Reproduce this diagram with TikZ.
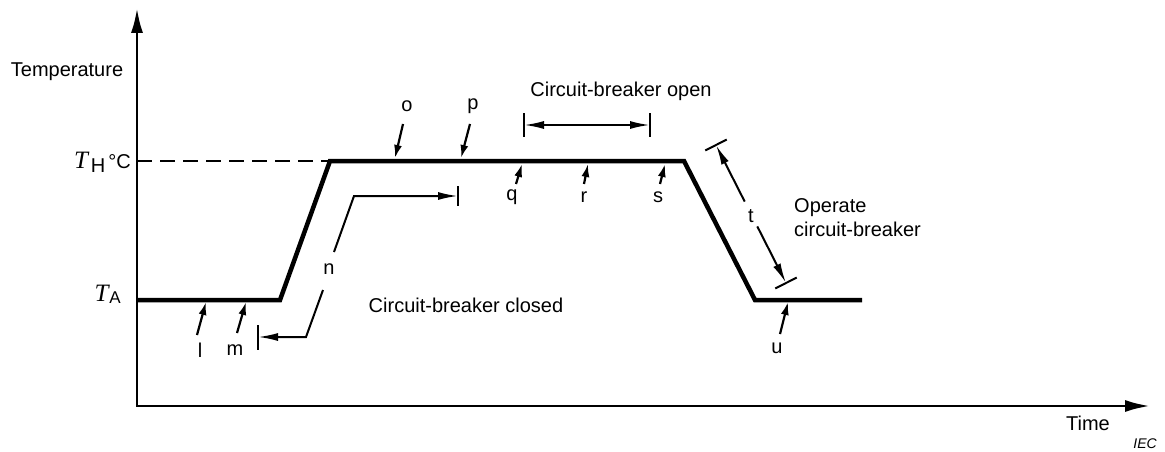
\documentclass[tikz,border=0pt]{standalone}
\usepackage{fontspec}
\setmainfont{Liberation Sans}
\newfontfamily\serifT{Liberation Serif}
\usetikzlibrary{arrows.meta,calc}
\tikzset{
  axis/.style={line width=2.8pt,{Latex[length=25pt,width=12pt]}-{Latex[length=25pt,width=12pt]}},
  profile/.style={line width=4.5pt,line join=miter},
  limitline/.style={line width=1.6pt,dash pattern=on 15pt off 8pt},
  pointer/.style={line width=2.2pt,-{Latex[length=13pt,width=8pt]}},
  dimline/.style={line width=2pt},
  dimtip/.style={-{Latex[length=20pt,width=8pt]}},
  lbl/.style={font=\fontsize{20}{24}\selectfont,inner sep=0pt},
  smalllbl/.style={font=\fontsize{14}{16}\selectfont\itshape,inner sep=0pt}
}
\newcommand{\tsym}{{\fontsize{25}{28}\selectfont\serifT\itshape T}}

\begin{document}
\begin{tikzpicture}[x=1pt,y=-1pt]
  \useasboundingbox (0,0) rectangle (1165,452);
  % axes
  \coordinate (O) at (137,406);
  \coordinate (ytop) at (137,8);
  \coordinate (xend) at (1150,406);
  \draw[axis] (ytop) -- (O) -- (xend);
  \node[lbl] (temp) at (67,72) {Temperature};
  \node[lbl] (time) at (1088,423) {Time};
  \node[smalllbl,anchor=east] (iec) at (1157,444) {IEC};
  \node[lbl,anchor=east] (th) at (131,162) {\tsym\kern3pt\raisebox{-0.4ex}{H}\kern3pt°C};
  \node[lbl,anchor=east] (ta) at (121,294) {\tsym\kern1pt\raisebox{-0.2ex}{\fontsize{17}{18}\selectfont A}};

  % temperature profile
  \coordinate (a0) at (137,300);
  \coordinate (a1) at (280,300);
  \coordinate (a2) at (330,161);
  \coordinate (a3) at (684,161);
  \coordinate (a4) at (755,300);
  \coordinate (a5) at (862,300);
  \coordinate (thy) at (137,161);
  \draw[limitline] (thy) -- (a2);
  \draw[profile] (a0) -- (a1) -- (a2) -- (a3) -- (a4) -- (a5);

  % pointers
  \coordinate (l0) at (197,335); \coordinate (l1) at (206,302);
  \coordinate (m0) at (237,333); \coordinate (m1) at (246,302);
  \coordinate (o0) at (403,124); \coordinate (o1) at (395,158);
  \coordinate (p0) at (470,124); \coordinate (p1) at (461,158);
  \coordinate (q0) at (516,184); \coordinate (q1) at (522,164);
  \coordinate (r0) at (584,184); \coordinate (r1) at (588,164);
  \coordinate (s0) at (660,184); \coordinate (s1) at (665,164);
  \coordinate (u0) at (780,334); \coordinate (u1) at (788,302);
  \draw[pointer] (l0) -- (l1);
  \draw[pointer] (m0) -- (m1);
  \draw[pointer] (o0) -- (o1);
  \draw[pointer] (p0) -- (p1);
  \draw[pointer] (q0) -- (q1);
  \draw[pointer] (r0) -- (r1);
  \draw[pointer] (s0) -- (s1);
  \draw[pointer] (u0) -- (u1);
  \node[lbl] (l) at (200,350) {l};
  \node[lbl] (m) at (235,350) {m};
  \node[lbl] (o) at (407,106) {o};
  \node[lbl] (p) at (473,106) {p};
  \node[lbl] (q) at (512,197) {q};
  \node[lbl] (r) at (584,197) {r};
  \node[lbl] (s) at (658,197) {s};
  \node[lbl] (u) at (777,348) {u};

  % breaker closed span
  \node[lbl] (n) at (329,269) {n};
  \coordinate (n1) at (258,337);
  \coordinate (n2) at (306,337);
  \coordinate (n3) at (323,290);
  \coordinate (n4) at (334,252);
  \coordinate (n5) at (354,196);
  \coordinate (n6) at (458,196);
  \draw[dimline,dimtip] (n3) -- (n2) -- (n1);
  \draw[dimline,dimtip] (n4) -- (n5) -- (n6);
  \draw[dimline] ($(n1)+(0,-12)$) -- ($(n1)+(0,13)$);
  \draw[dimline] ($(n6)+(0,-10)$) -- ($(n6)+(0,10)$);
  \node[lbl] (closed) at (466,305) {Circuit-breaker closed};

  % breaker open span
  \coordinate (b1) at (524,125);
  \coordinate (b2) at (650,125);
  \draw[dimline,{Latex[length=20pt,width=8pt]}-{Latex[length=20pt,width=8pt]}] (b1) -- (b2);
  \draw[dimline] ($(b1)+(0,-12)$) -- ($(b1)+(0,12)$);
  \draw[dimline] ($(b2)+(0,-12)$) -- ($(b2)+(0,12)$);
  \node[lbl] (open) at (621,91) {Circuit-breaker open};

  % operating span
  \coordinate (t1) at (716,145);
  \coordinate (t2) at (786,283);
  \node[lbl] (t) at (751,216) {t};
  \draw[dimline,dimtip] ($(t1)!0.41!(t2)$) -- (t1);
  \draw[dimline,dimtip] ($(t1)!0.59!(t2)$) -- (t2);
  \draw[dimline] ($(t1)!12pt!90:(t2)$) -- ($(t1)!12pt!-90:(t2)$);
  \draw[dimline] ($(t2)!12pt!90:(t1)$) -- ($(t2)!12pt!-90:(t1)$);
  \node[lbl,anchor=west,align=left] (operate) at (794,218) {Operate\\circuit-breaker};
\end{tikzpicture}
\end{document}
